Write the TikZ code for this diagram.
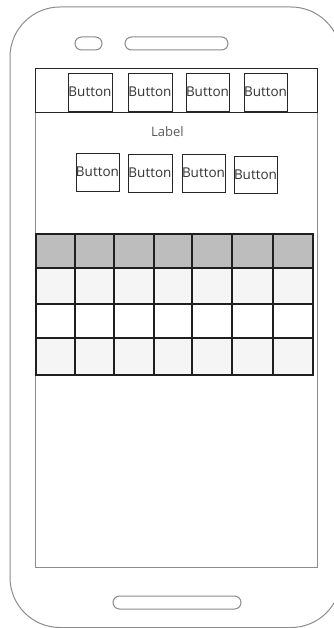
\documentclass[tikz,border=0pt]{standalone}
\usepackage{fontspec}
\setmainfont{Open Sans}
\begin{document}
\begin{tikzpicture}[x=1pt,y=-1pt,
  phoneline/.style={draw=black!45,line width=1pt},
  btn/.style={draw=black!85,line width=0.9pt,inner sep=0pt,text=black!80,
    font=\fontsize{13.5}{14}\selectfont},
  tbl/.style={draw=black!88,line width=1.1pt}]
\useasboundingbox (0,0) rectangle (334,628);
% phone body
\draw[phoneline,rounded corners=50pt] (10,7) rectangle (341,627.5);
\draw[phoneline,rounded corners=6.5pt] (75,37) rectangle (102,50);
\draw[phoneline,rounded corners=6.5pt] (125,37) rectangle (228,50);
\draw[phoneline,rounded corners=6.5pt] (113,596) rectangle (241,609);
% screen
\draw[phoneline] (35.5,69) rectangle (317.5,567);
% top bar
\draw[draw=black!85,line width=1pt] (35.5,69) rectangle (317.5,113);
\node[btn,minimum width=44pt,minimum height=38pt] (t1) at (90,92) {Button};
\node[btn,minimum width=44pt,minimum height=38pt] (t2) at (150,92) {Button};
\node[btn,minimum width=43pt,minimum height=38pt] (t3) at (207.5,92) {Button};
\node[btn,minimum width=43pt,minimum height=38pt] (t4) at (265.5,92) {Button};
% label
\node[text=black!65,font=\fontsize{13}{14}\selectfont] (lbl) at (167.5,132) {Label};
% second row buttons
\node[btn,minimum width=43pt,minimum height=38pt] (b1) at (97.5,172) {Button};
\node[btn,minimum width=44pt,minimum height=38pt] (b2) at (150,173) {Button};
\node[btn,minimum width=43pt,minimum height=38pt] (b3) at (203.5,173) {Button};
\node[btn,minimum width=43pt,minimum height=37pt] (b4) at (255.5,174.5) {Button};
% table
\fill[black!26] (36,234) rectangle (313,268);
\fill[black!4] (36,268) rectangle (313,304);
\fill[white] (36,304) rectangle (313,338);
\fill[black!4] (36,338) rectangle (313,375);
\foreach \x in {75,114,154,192,232,273}
  \draw[tbl] (\x,234) -- (\x,375);
\foreach \y in {268,304,338}
  \draw[tbl] (36,\y) -- (313,\y);
\draw[tbl] (36,234) rectangle (313,375);
\end{tikzpicture}
\end{document}
